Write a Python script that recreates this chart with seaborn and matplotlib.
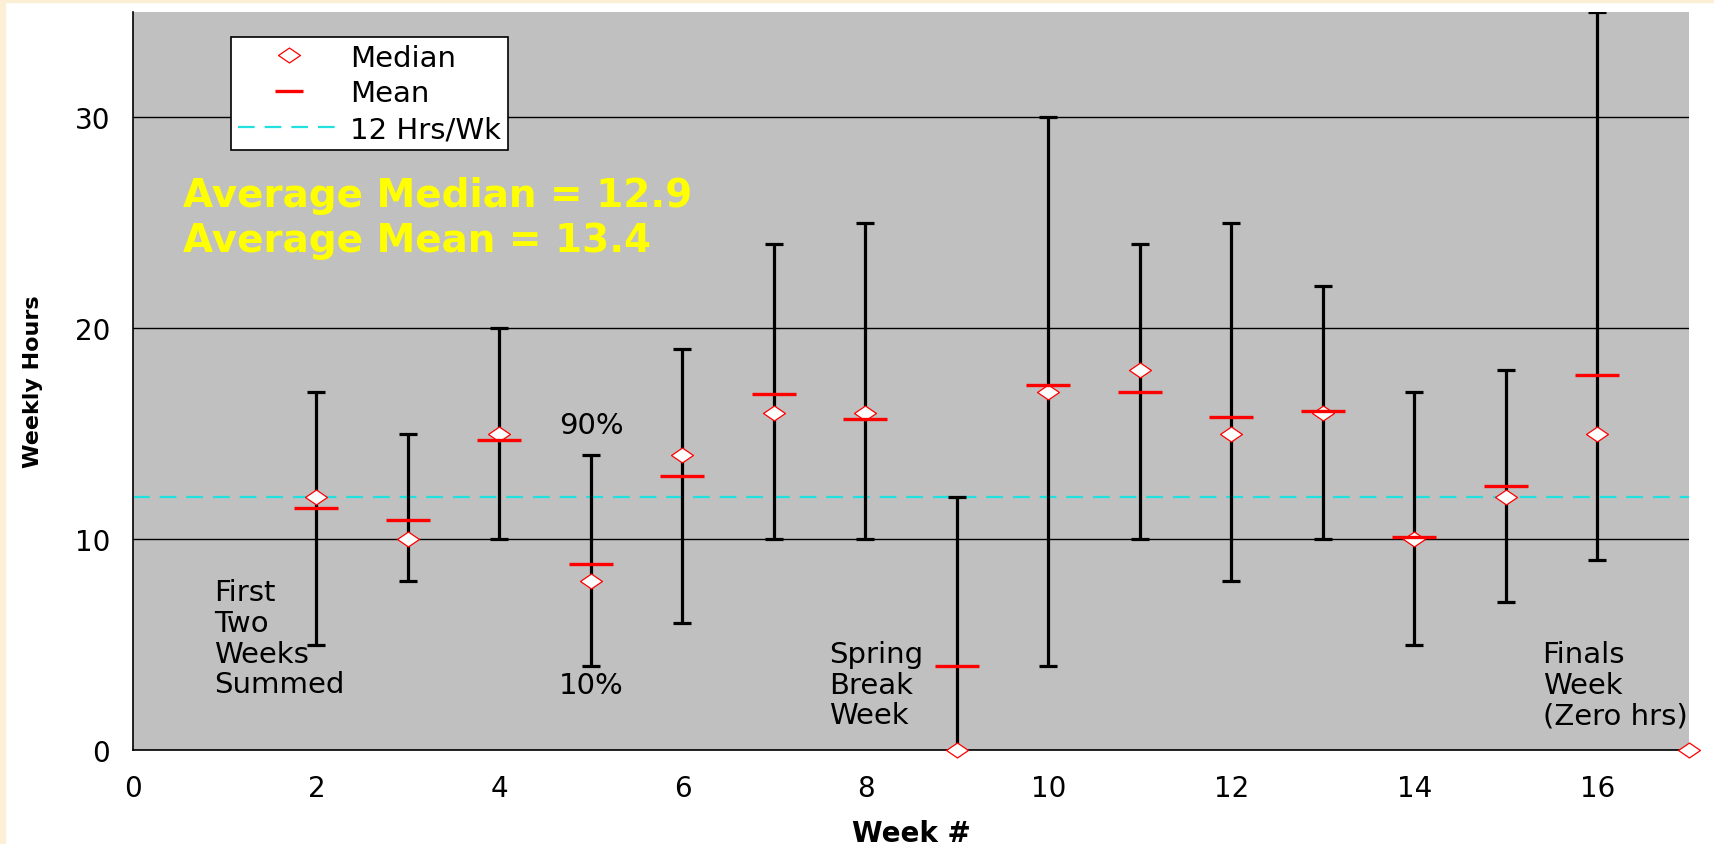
import matplotlib
matplotlib.use("Agg")
import numpy as np
import pandas as pd
import matplotlib.pyplot as plt
import seaborn as sns
from matplotlib.lines import Line2D
from matplotlib.patches import Rectangle
from matplotlib.path import Path

# ==========================================================
# DATA
# ==========================================================

weeks = [2, 3, 4, 5, 6, 7, 8, 9, 10, 11, 12, 13, 14, 15, 16]
median_hrs = [12, 10, 15, 8, 14, 16, 16, 0, 17, 18, 15, 16, 10, 12, 15]
mean_hrs = [11.5, 10.9, 14.7, 8.8, 13.0, 16.9, 15.7, 4.0, 17.3, 17.0, 15.8, 16.1, 10.1, 12.5, 17.8]
p90_hrs = [17, 15, 20, 14, 19, 24, 25, 12, 30, 24, 25, 22, 17, 18, 35]
p10_hrs = [5, 8, 10, 4, 6, 10, 10, 0, 4, 10, 8, 10, 5, 7, 9]

finals_week = [17]
finals_median = [0]

target_hrs = 12
avg_median = 12.9
avg_mean = 13.4

df = pd.DataFrame({
    "week": weeks,
    "median": median_hrs,
    "mean": mean_hrs,
    "p90": p90_hrs,
    "p10": p10_hrs,
})

# ==========================================================
# STYLE
# ==========================================================

sns.set_style("white")
plt.rcParams["font.family"] = ["DejaVu Sans"]
plt.rcParams["text.color"] = "black"
plt.rcParams["axes.labelcolor"] = "black"
plt.rcParams["xtick.color"] = "black"
plt.rcParams["ytick.color"] = "black"

# the original slide is a bit wider than tall -> flat diamonds
wide_diamond = Path([(-1, 0), (0, 0.68), (1, 0), (0, -0.68), (-1, 0)],
                    [Path.MOVETO, Path.LINETO, Path.LINETO, Path.LINETO, Path.CLOSEPOLY])

fig = plt.figure(figsize=(17.15, 8.45), dpi=100)
fig.patch.set_facecolor("white")

# cream edge on left / top of the slide
fig.patches.append(Rectangle((0, 0), 5 / 1715, 1, transform=fig.transFigure,
                             color="#FBEFD6", zorder=0))
fig.patches.append(Rectangle((0, 1 - 3 / 845), 1, 3 / 845, transform=fig.transFigure,
                             color="#FBEFD6", zorder=0))

ax = fig.add_axes([133.5 / 1715, 94 / 845, 1555.5 / 1715, 738 / 845])
ax.set_facecolor("#C0C0C0")

# ==========================================================
# ERROR BARS (10% - 90%)
# ==========================================================

lower = df["median"] - df["p10"]
upper = df["p90"] - df["median"]
ax.errorbar(df["week"], df["median"], yerr=[lower, upper], fmt="none",
            ecolor="black", elinewidth=2.3, capsize=6.5, capthick=2.3, zorder=2)

# 12 hrs/wk reference line
ax.axhline(target_hrs, color="#22E0E0", lw=1.6, dashes=(7.5, 4.5), zorder=1.5)

# medians
sns.scatterplot(data=df, x="week", y="median", marker=wide_diamond, s=250,
                facecolor="white", edgecolor="red", linewidth=0.9,
                zorder=3, clip_on=False, ax=ax)
sns.scatterplot(x=finals_week, y=finals_median, marker=wide_diamond, s=250,
                facecolor="white", edgecolor="red", linewidth=0.9,
                zorder=3, clip_on=False, ax=ax)

# means
sns.scatterplot(data=df, x="week", y="mean", marker="_", s=32 ** 2,
                color="red", linewidth=2.4, zorder=4, ax=ax)

# ==========================================================
# AXES
# ==========================================================

ax.set_xlim(0, 17)
ax.set_ylim(0, 35)
ax.set_xticks(range(0, 17, 2))
ax.set_yticks([0, 10, 20, 30])
ax.set_yticks(range(0, 35, 2), minor=True)
ax.yaxis.grid(True, which="major", color="black", lw=1.0)
ax.xaxis.grid(False)
ax.set_axisbelow(True)

for side in ["top", "right"]:
    ax.spines[side].set_visible(False)
for side in ["left", "bottom"]:
    ax.spines[side].set_color("black")
    ax.spines[side].set_linewidth(1.2)

ax.tick_params(axis="y", which="both", direction="out", length=8, width=1.0,
               labelsize=20, pad=9)
ax.tick_params(axis="x", which="both", direction="out", length=8, width=1.0,
               labelsize=20, pad=9)

ax.set_xlabel("Week #", fontsize=20, fontweight="bold")
ax.set_ylabel("Weekly Hours", fontsize=16, fontweight="bold")
ax.xaxis.set_label_coords(0.5, -0.093)
ax.yaxis.set_label_coords(-0.058, 0.5)

# ==========================================================
# TEXT
# ==========================================================

ax.text(0.54, 26.3, f"Average Median = {avg_median}", color="yellow",
        fontsize=28, fontweight="bold", va="center", ha="left")
ax.text(0.54, 24.2, f"Average Mean = {avg_mean}", color="yellow",
        fontsize=28, fontweight="bold", va="center", ha="left")

ax.text(5, 15.4, "90%", fontsize=21, ha="center", va="center")
ax.text(5, 3.1, "10%", fontsize=21, ha="center", va="center")
ax.text(0.88, 5.3, "First\nTwo\nWeeks\nSummed", fontsize=21,
        ha="left", va="center", linespacing=1.12)
ax.text(7.6, 3.1, "Spring\nBreak\nWeek", fontsize=21,
        ha="left", va="center", linespacing=1.12)
ax.text(15.4, 3.1, "Finals\nWeek\n(Zero hrs)", fontsize=21,
        ha="left", va="center", linespacing=1.12)

# ==========================================================
# LEGEND
# ==========================================================

handles = [
    Line2D([], [], marker=wide_diamond, ls="none", markersize=15.8,
           markerfacecolor="white", markeredgecolor="red", markeredgewidth=0.9),
    Line2D([], [], marker="_", ls="none", color="red", markersize=20,
           markeredgewidth=2.4),
    Line2D([], [], color="#22E0E0", lw=1.6, dashes=(7.5, 4.5)),
]
leg = ax.legend(handles, ["Median", "Mean", "12 Hrs/Wk"], loc="upper left",
                bbox_to_anchor=(0.063, 0.966), borderaxespad=0, fontsize=21,
                frameon=True, fancybox=False, framealpha=1, edgecolor="black",
                handlelength=3.5, handletextpad=0.35, borderpad=0.22,
                labelspacing=0.27)
leg.get_frame().set_linewidth(1.2)

fig.savefig("out.png", dpi=100)
